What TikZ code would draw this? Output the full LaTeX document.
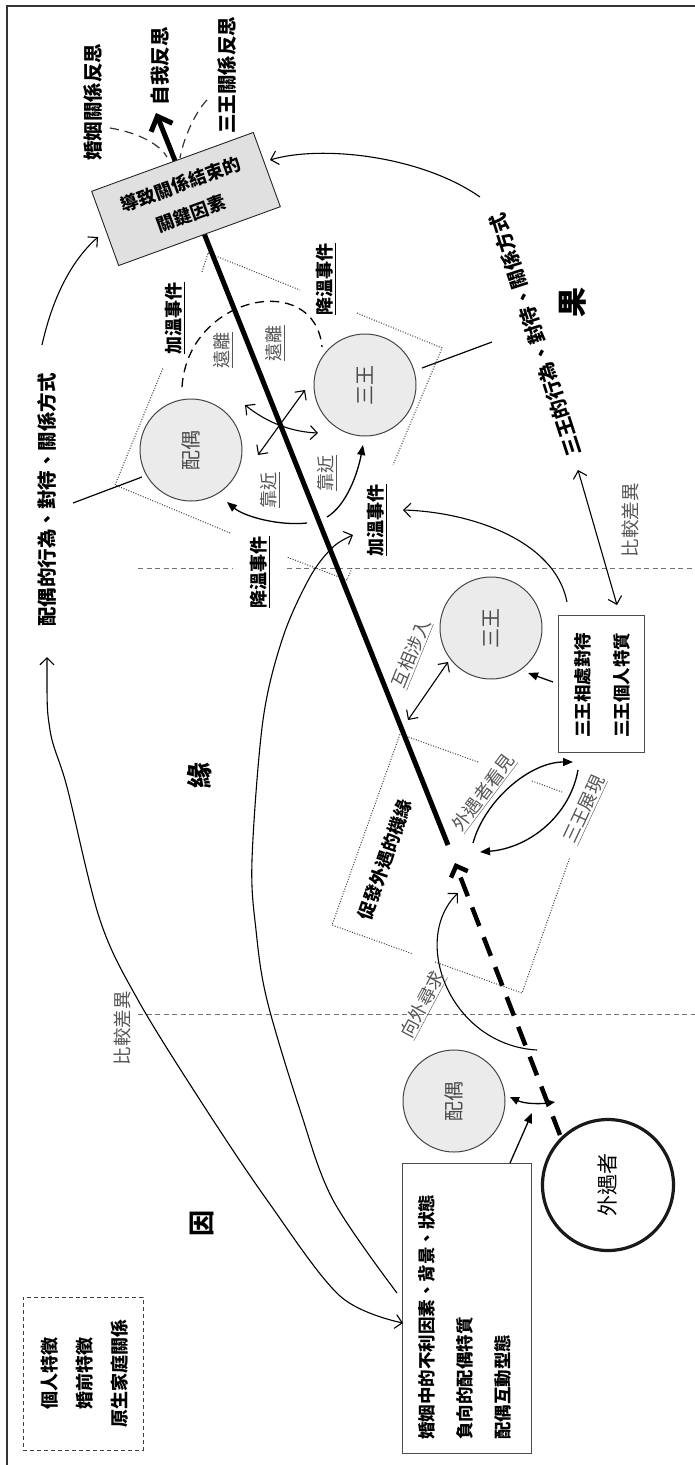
\documentclass[tikz,border=0pt]{standalone}
\usepackage{fontspec}
\setmainfont{Noto Sans CJK TC}
\usetikzlibrary{arrows.meta}
\definecolor{cfill}{HTML}{EBEBEB}
\definecolor{bfill}{HTML}{E0E0E0}
\definecolor{txtg}{HTML}{4A4A4A}
\definecolor{lblg}{HTML}{555555}
\definecolor{lineg}{HTML}{444444}
\begin{document}
\begin{tikzpicture}[x=1pt,y=-1pt,
  bl/.style={rotate=90, inner sep=1pt, font=\fontsize{19.5}{22}\selectfont\bfseries},
  gl/.style={rotate=90, inner sep=1pt, text=lblg, font=\fontsize{18}{20}\selectfont},
  ev/.style={rotate=90, inner sep=1pt, font=\fontsize{18}{20}\selectfont\bfseries},
  circ/.style={circle, draw=lineg, fill=cfill, line width=1pt, minimum size=102pt, inner sep=0pt, rotate=90, text=txtg, font=\fontsize{20}{22}\selectfont},
  big/.style={rotate=90, inner sep=0pt, font=\fontsize{26}{28}\selectfont\bfseries},
  oa/.style={-{Straight Barb[length=7pt,width=14pt]}, line width=1.1pt},
  da/.style={{Straight Barb[length=7pt,width=14pt]}-{Straight Barb[length=7pt,width=14pt]}, line width=1.1pt},
  fa/.style={-{Triangle[length=10pt,width=8pt]}, line width=1.3pt},
  dfa/.style={{Triangle[length=9pt,width=8pt]}-{Triangle[length=9pt,width=8pt]}, line width=1.3pt},
  dotl/.style={line width=1pt, dash pattern=on 1pt off 1.6pt, black!75},
  hdash/.style={line width=0.9pt, dash pattern=on 5pt off 3.5pt, black!55},
  thinl/.style={line width=1.2pt},
  rdash/.style={line width=1.3pt, dash pattern=on 9pt off 6pt},
  ]
\useasboundingbox (0,0) rectangle (695,1465);
% frame
\draw[line width=2.5pt, black!80] (7,1475) -- (7,6) -- (705,6);

% horizontal dashed separators
\draw[hdash] (138,1014) -- (695,1014);
\draw[hdash] (138,568) -- (232,568);
\draw[hdash] (287,568) -- (695,568);

% dotted quadrilateral a
\draw[dotl] (208,253) -- (300,290);
\draw[dotl] (357,313) -- (442,348) -- (393,465);
\draw[dotl] (352,568) -- (347,580) -- (287,557);
\draw[dotl] (230,533) -- (115,485) -- (163,368);
\draw[dotl] (202,272) -- (208,253);
% dotted quadrilateral b
\draw[dotl] (478,762) -- (400,734) -- (332,925) -- (413,954);
\draw[dotl] (435,962) -- (522,993) -- (570,857);
\draw[dotl] (532,781) -- (562,792);

% main thick line
\coordinate (mlA) at (448,845);
\coordinate (mlB) at (156,113);
\draw[line width=5pt, -{Straight Barb[length=12pt,width=23pt]}] (mlA) -- (mlB);

% key box
\node[draw=black!85, fill=bfill, rotate=20, minimum width=172pt, minimum height=79pt, align=center, line width=0.9pt,
      font=\fontsize{18}{31}\selectfont\bfseries] (key) at (186,199) {導致關係結束的\\關鍵因素};

% reflections
\node[bl] (r1) at (93,102) {婚姻關係反思};
\node[bl] (r2) at (160,66) {自我反思};
\node[bl] (r3) at (227,75) {三王關係反思};
\coordinate (r1e) at (110,128); \coordinate (r1f) at (167,157);
\coordinate (r3e) at (207,100); \coordinate (r3f) at (180,158);
\draw[rdash, line width=1.2pt, black!80] (r1e) .. controls (140,133) and (160,145) .. (r1f);
\draw[rdash, line width=1.2pt, black!80] (r3e) .. controls (195,112) and (183,140) .. (r3f);

% circles
\node[circ] (p1) at (191,450) {配偶};
\node[circ] (s1) at (365,385) {三王};
\node[circ] (s2) at (491,628) {三王};
\node[circ] (p2) at (454,1101) {配偶};
\node[circle, draw=black!90, fill=white, line width=3.2pt, minimum size=131pt, inner sep=0pt, rotate=90, font=\fontsize{21}{22}\selectfont] (w) at (608,1185) {外遇者};

% event labels
\node[ev] (e1) at (175,318) {\underline{加溫事件}};
\node[ev] (e2) at (326,279) {\underline{降溫事件}};
\node[ev] (e3) at (260,572) {\underline{降溫事件}};
\node[ev] (e4) at (377,520) {\underline{加溫事件}};

% far / near
\coordinate (farA) at (182,387); \coordinate (farB) at (322,347);
\draw[rdash] (farA) .. controls (188,295) and (315,270) .. (farB);
\node[gl] (f1) at (223,350) {\underline{遠離}};
\node[gl] (f2) at (275,343) {\underline{遠離}};
\coordinate (xa1) at (245,405); \coordinate (xa2) at (318,433);
\coordinate (xb1) at (258,455); \coordinate (xb2) at (305,390);
\draw[da] (xa1) .. controls (270,425) and (295,432) .. (xa2);
\draw[da] (xb1) -- (xb2);
\coordinate (n1a) at (307,523); \coordinate (n1b) at (227,502);
\coordinate (n2a) at (327,517); \coordinate (n2b) at (363,445);
\draw[fa] (n1a) .. controls (280,526) and (245,517) .. (n1b);
\draw[fa] (n2a) .. controls (347,505) and (358,472) .. (n2b);
\node[gl] (c1) at (270,490) {\underline{靠近}};
\node[gl] (c2) at (327,473) {\underline{靠近}};

% behaviour texts
\node[bl] (bp) at (47,500) {配偶的行為、對待、關係方式};
\node[bl, rotate=18] (bs) at (535,335) {三王的行為、對待、關係方式};
\coordinate (lp1) at (142,477); \coordinate (lp2) at (73,503);
\draw[thinl] (lp1) -- (lp2);
\coordinate (ls1) at (422,368); \coordinate (ls2) at (492,342);
\draw[thinl] (ls1) -- (ls2);

% top arcs to key box
\coordinate (ta1) at (480,197); \coordinate (ta2) at (270,160);
\draw[oa] (ta1) .. controls (420,155) and (320,145) .. (ta2);
\coordinate (la1) at (42,345); \coordinate (la2) at (98,237);
\draw[oa] (la1) .. controls (52,300) and (70,262) .. (la2);

% big characters
\node[big] (g1) at (202,1223) {因};
\node[big] (g2) at (200,775) {緣};
\node[big, font=\fontsize{30}{32}\selectfont\bfseries] (g3) at (573,302) {果};

% compare labels
\node[gl, font=\fontsize{18.5}{20}\selectfont] (cmp1) at (122,1028) {比較差異};
\node[gl, font=\fontsize{18.5}{20}\selectfont] (cmp2) at (630,520) {比較差異};

% third party box
\node[draw=black!70, line width=0.9pt, minimum width=86pt, minimum height=137pt, inner sep=0pt] (tb) at (601,683.5) {};
\node[rotate=90, align=center, inner sep=0pt, font=\fontsize{17.5}{39}\selectfont\bfseries] (tbt) at (602,685) {三王相處對待\\三王個人特質};

% marriage box
\node[draw=black!70, line width=0.9pt, minimum width=129pt, minimum height=290pt, inner sep=0pt] (mb) at (466.5,1308) {};
\node[rotate=90, align=left, anchor=west, inner sep=0pt, font=\fontsize{17.5}{38}\selectfont\bfseries] (mbt) at (465,1440) {婚姻中的不利因素、背景、狀態\\負向的配偶特質\\配偶互動型態};

% pre-marriage dashed box
\node[draw=black!75, dash pattern=on 4pt off 3pt, line width=0.9pt, minimum width=120pt, minimum height=153pt, inner sep=0pt] (pb) at (83,1373.5) {};
\node[rotate=90, align=center, inner sep=0pt, font=\fontsize{18}{35}\selectfont\bfseries] (pbt) at (85,1373) {個人特徵\\婚前特徵\\原生家庭關係};

% long curves
\coordinate (c1a) at (47,657); \coordinate (c1b) at (403,1323);
\draw[da] plot[smooth, tension=0.55] coordinates {(c1a) (50,730) (67,787) (100,920) (138,1000) (200,1100) (267,1200) (340,1296) (c1b)};
\coordinate (c2a) at (397,1293); \coordinate (c2b) at (353,535);
\draw[oa] plot[smooth, tension=0.55] coordinates {(c2a) (333,1200) (300,1110) (267,1000) (256,930) (252,860) (263,720) (283,637) (310,577) (333,547) (c2b)};

% box -> heating event
\coordinate (h1) at (567,602); \coordinate (h2) at (403,510);
\draw[oa] (h1) .. controls (555,540) and (470,512) .. (h2);
% compare right
\coordinate (k1) at (578,470); \coordinate (k2) at (617,605);
\draw[da] (k1) -- (k2);

% third party box -> circle
\coordinate (tq1) at (553,682); \coordinate (tq2) at (528,673);
\draw[fa] (tq1) -- (tq2);

% mutual involvement
\coordinate (mi1) at (408,720); \coordinate (mi2) at (448,662);
\draw[da] (mi1) -- (mi2);
\node[gl, rotate=-22] (mil) at (412,654) {\underline{互相涉入}};

% opportunity box label
\node[ev, rotate=-19] (opp) at (385,860) {促發外遇的機緣};

% see / show arrows
\coordinate (sa1) at (473,843); \coordinate (sa2) at (573,762);
\draw[fa] (sa1) .. controls (485,800) and (530,762) .. (sa2);
\coordinate (sb1) at (578,770); \coordinate (sb2) at (480,852);
\draw[fa] (sb1) .. controls (570,815) and (530,848) .. (sb2);
\node[gl, rotate=-37] (sal) at (484,793) {\underline{外遇者看見}};
\node[gl, rotate=-25] (sbl) at (585,810) {\underline{三王展現}};

% seeking outside
\coordinate (so1) at (537,1050); \coordinate (so2) at (458,893);
\draw[oa] (so1) .. controls (450,1045) and (410,940) .. (so2);
\node[gl, rotate=-28] (sol) at (423,1005) {\underline{向外尋求}};

% dashed thick line from affair partner
\coordinate (dl1) at (560,1135); \coordinate (dl2) at (455,863);
\draw[line width=4.5pt, dash pattern=on 20pt off 12pt, -{Straight Barb[length=9pt,width=18pt]}] (dl1) -- (dl2);

% bottom small arrows
\coordinate (bq1) at (510,1097); \coordinate (bq2) at (555,1102);
\draw[dfa] (bq1) .. controls (525,1104) and (540,1104) .. (bq2);
\coordinate (bm1) at (510,1163); \coordinate (bm2) at (532,1113);
\draw[fa] (bm1) -- (bm2);
\end{tikzpicture}
\end{document}
